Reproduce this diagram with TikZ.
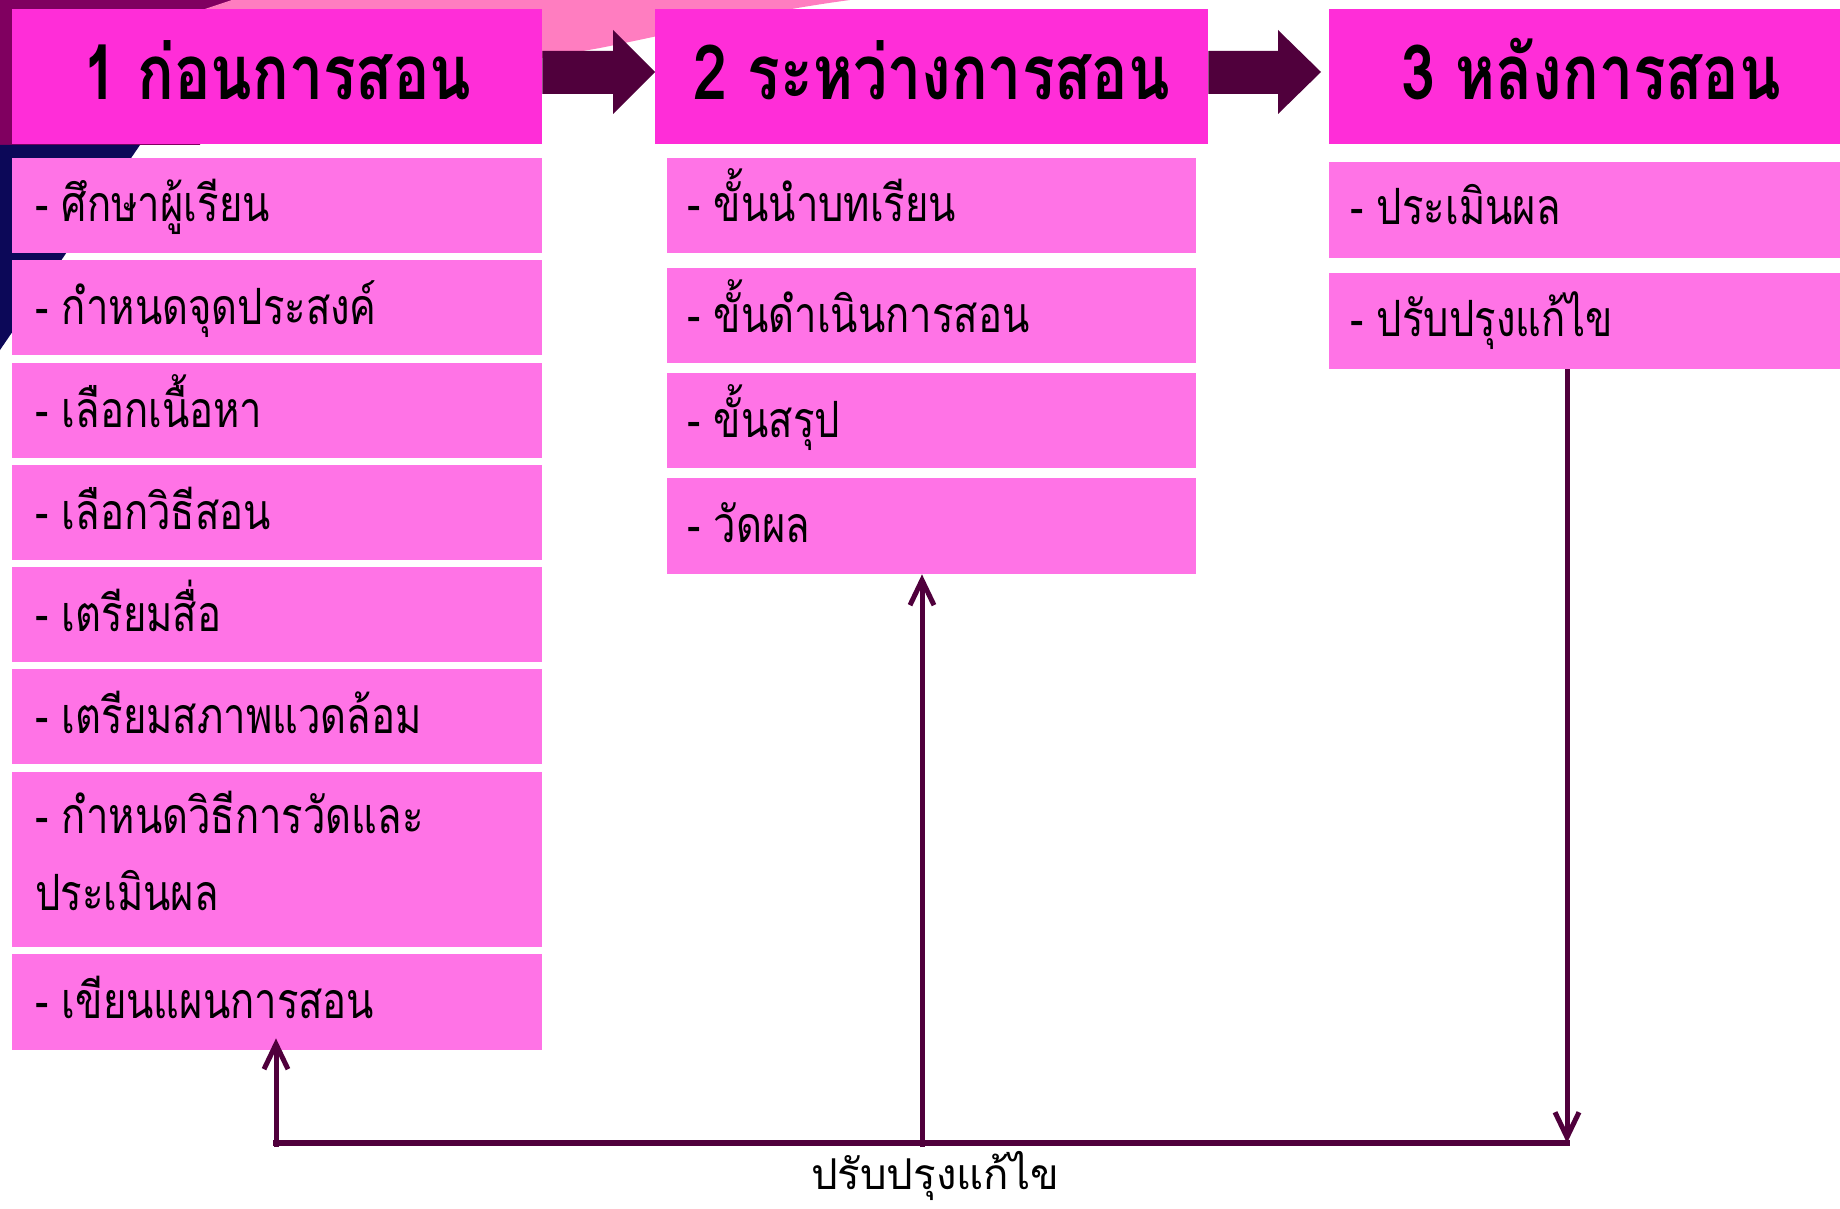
\documentclass[tikz,border=0pt]{standalone}
\usepackage{fontspec}
\usepackage{graphicx}
\usetikzlibrary{arrows.meta,calc}
\newfontfamily\thaifont[Script=Thai,FakeStretch=0.8]{Loma}
\newcommand{\ifont}{\thaifont\fontsize{50}{60}\selectfont}
\newcommand{\hfont}{\thaifont\bfseries\fontsize{76}{90}\selectfont}
\definecolor{hdrc}{RGB}{255,45,216}
\definecolor{itmc}{RGB}{255,115,230}
\definecolor{darkc}{RGB}{80,0,60}
\definecolor{bgpurple}{RGB}{128,0,96}
\definecolor{bgpink}{RGB}{255,125,192}
\definecolor{bgnavy}{RGB}{12,8,88}
\begin{document}
\begin{tikzpicture}[x=1pt,y=-1pt,
  hdr/.style={fill=hdrc, draw=none, anchor=north west, inner sep=0, minimum height=135pt},
  itembox/.style={fill=itmc, draw=none, anchor=north west, inner sep=0, minimum height=95pt},
  htext/.style={anchor=base, inner sep=0, font=\hfont},
  itext/.style={anchor=base west, inner sep=0, font=\ifont},
  conn/.style={draw=darkc, line width=5pt},
  barbend/.style={-{Straight Barb[length=25pt,width=24pt]}},
  blockarrow/.style={fill=darkc, draw=none}]
\useasboundingbox (0,0) rectangle (1840,1209);
\fill[white] (0,0) rectangle (1840,1209);
% background template pieces
\fill[bgpurple] (0,0) -- (232,0) -- (200,20) -- (200,145) -- (0,145) -- cycle;
\fill[bgnavy] (0,145) -- (140,145) -- (0,350) -- cycle;
\fill[bgpink] (232,0) -- (850,0) .. controls (760,12) and (680,32) .. (600,48) -- (543,58) -- (230,58) -- (205,9) -- cycle;

% headers
\node[hdr, minimum width=530pt] (h1) at (12,9) {};
\node[hdr, minimum width=553pt] (h2) at (655,9) {};
\node[hdr, minimum width=524pt] (h3) at (1329,9) {};
\node[htext] (ht1) at ([yshift=-91pt]h1.north) {1 ก่อนการสอน};
\node[htext] (ht2) at ([yshift=-91pt]h2.north) {2 ระหว่างการสอน};
\node[htext] (ht3) at ([yshift=-91pt]h3.north) {3 หลังการสอน};

% block arrows
\fill[blockarrow] (h1.east |- 0,51) -- (613,51) -- (613,30) -- (h2.west |- 0,72) -- (613,114) -- (613,94) -- (h1.east |- 0,94) -- cycle;
\fill[blockarrow] (h2.east |- 0,51) -- (1278,51) -- (1278,30) -- (1321,72) -- (1278,114) -- (1278,94) -- (h2.east |- 0,94) -- cycle;

% left column
\node[itembox, minimum width=530pt] (a1) at (12,158) {};
\node[itembox, minimum width=530pt] (a2) at (12,260) {};
\node[itembox, minimum width=530pt] (a3) at (12,363) {};
\node[itembox, minimum width=530pt] (a4) at (12,465) {};
\node[itembox, minimum width=530pt] (a5) at (12,567) {};
\node[itembox, minimum width=530pt] (a6) at (12,669) {};
\node[itembox, minimum width=530pt, minimum height=175pt] (a7) at (12,772) {};
\node[itembox, minimum width=530pt, minimum height=96pt] (a8) at (12,954) {};
\node[itext] (at1) at ([shift={(23,64)}]a1.north west) {- ศึกษาผู้เรียน};
\node[itext] (at2) at ([shift={(23,64)}]a2.north west) {- กำหนดจุดประสงค์};
\node[itext] (at3) at ([shift={(23,64)}]a3.north west) {- เลือกเนื้อหา};
\node[itext] (at4) at ([shift={(23,64)}]a4.north west) {- เลือกวิธีสอน};
\node[itext] (at5) at ([shift={(23,64)}]a5.north west) {- เตรียมสื่อ};
\node[itext] (at6) at ([shift={(23,64)}]a6.north west) {- เตรียมสภาพแวดล้อม};
\node[itext] (at7) at ([shift={(23,61)}]a7.north west) {- กำหนดวิธีการวัดและ};
\node[itext] (at7b) at ([shift={(23,138)}]a7.north west) {ประเมินผล};
\node[itext] (at8) at ([shift={(23,64)}]a8.north west) {- เขียนแผนการสอน};

% middle column
\node[itembox, minimum width=529pt] (b1) at (667,158) {};
\node[itembox, minimum width=529pt] (b2) at (667,268) {};
\node[itembox, minimum width=529pt] (b3) at (667,373) {};
\node[itembox, minimum width=529pt, minimum height=96pt] (b4) at (667,478) {};
\node[itext] (bt1) at ([shift={(20,64)}]b1.north west) {- ขั้นนำบทเรียน};
\node[itext] (bt2) at ([shift={(20,64)}]b2.north west) {- ขั้นดำเนินการสอน};
\node[itext] (bt3) at ([shift={(20,64)}]b3.north west) {- ขั้นสรุป};
\node[itext] (bt4) at ([shift={(20,64)}]b4.north west) {- วัดผล};

% right column
\node[itembox, minimum width=524pt, minimum height=96pt] (c1) at (1329,162) {};
\node[itembox, minimum width=524pt, minimum height=96pt] (c2) at (1329,273) {};
\node[itext] (ct1) at ([shift={(21,63)}]c1.north west) {- ประเมินผล};
\node[itext] (ct2) at ([shift={(21,63)}]c2.north west) {- ปรับปรุงแก้ไข};

% feedback connectors
\coordinate (cl) at (276,1143);
\coordinate (cm) at (922,1143);
\coordinate (cr) at (1567,1143);
\coordinate (lt) at ($(a8.south -| cl)+(0,-12)$);
\draw[conn, line width=6pt, line cap=rect] (cl) -- (cr);
\draw[conn, barbend] ($(cl)+(0,4)$) -- (lt);
\draw[conn, barbend] ($(cm)+(0,4)$) -- (b4.south -| cm);
\draw[conn, barbend] (c2.south -| cr) -- (cr);
\node[anchor=base, inner sep=0, font=\ifont] (lbl) at (935,1189) {\scalebox{1.05}[0.85]{ปรับปรุงแก้ไข}};
\end{tikzpicture}
\end{document}
